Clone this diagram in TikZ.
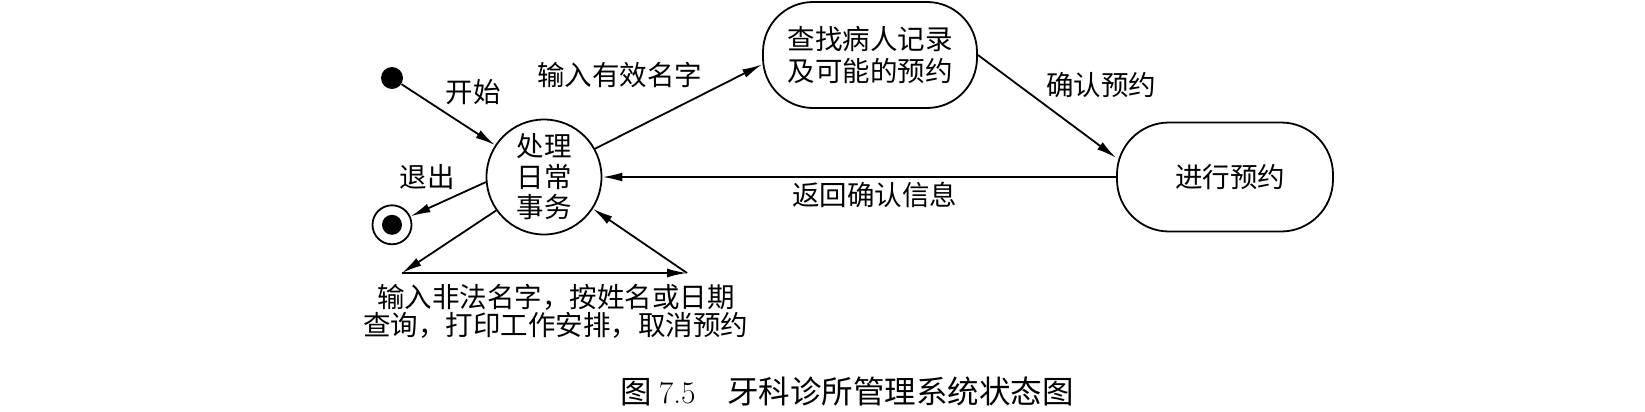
\documentclass[tikz,border=0pt]{standalone}
\usepackage{fontspec}
\newfontfamily\cjk{Noto Sans CJK SC}
\usetikzlibrary{positioning,arrows.meta}
\newcommand{\lblfont}{\cjk\fontsize{13.75pt}{14pt}\selectfont}
\tikzset{
  state/.style={draw, circle, line width=0.9pt, align=center, inner sep=0pt, font=\cjk\fontsize{13.75pt}{15.25pt}\selectfont},
  act/.style={draw, rectangle, rounded corners=25pt, line width=0.9pt, align=center, inner sep=0pt, font=\cjk\fontsize{13.75pt}{16pt}\selectfont},
  dot/.style={circle, fill=black, inner sep=0pt, minimum size=11pt},
  flow/.style={-{Latex[length=10pt, width=4.5pt]}, line width=0.9pt},
  lbl/.style={font=\lblfont, inner sep=2pt, align=center},
}
\begin{document}
\begin{tikzpicture}[x=0.5pt, y=-0.5pt]
  \useasboundingbox (0,0) rectangle (1645,412);
  % states
  \node[dot] (start) at (392,78) {};
  \node[state, minimum size=57.5pt] (work) at (544,177) {处理\\日常\\事务};
  \node[state, below=57.5pt of start, minimum size=19.5pt] (stop) {};
  \node[dot, minimum size=10pt] (stopdot) at (stop) {};
  \node[act, minimum width=107pt, minimum height=53pt] (find) at (870,55) {查找病人记录\\及可能的预约};
  \node[act, rounded corners=26pt, minimum width=108pt, minimum height=54.5pt] (book) at (1225,177) {\hspace*{5pt}进行预约};
  % corners of the loop below
  \coordinate (lp) at (402,273);
  \coordinate (rp) at (687,273);
  % arrows
  \draw[flow] (start) -- node[lbl, pos=0.42, anchor=south west]{开始} (work);
  \draw[flow] (work.185) -- node[lbl, pos=0.35, anchor=south east]{退出} (stop);
  \draw[flow] (work.29) -- node[lbl, pos=0.67, anchor=south east]{输入有效名字} (find.185);
  \draw[flow] (find.east) -- node[lbl, pos=0.46, anchor=south west]{确认预约} (book.170);
  \draw[flow] (book.west) -- node[lbl, pos=0.47, below]{返回确认信息} (work.east);
  \draw[flow] (work.215) -- (lp);
  \draw[flow] (lp) -- node[lbl, pos=0.54, below=3pt]{输入非法名字，按姓名或日期\\查询，打印工作安排，取消预约} (rp);
  \draw[flow] (rp) -- (work.327);
  % caption
  \node[font=\cjk\fontsize{15.75pt}{16pt}\selectfont] (caption) at (847,391) {图 {\rmfamily 7.5}\quad 牙科诊所管理系统状态图};
\end{tikzpicture}
\end{document}
